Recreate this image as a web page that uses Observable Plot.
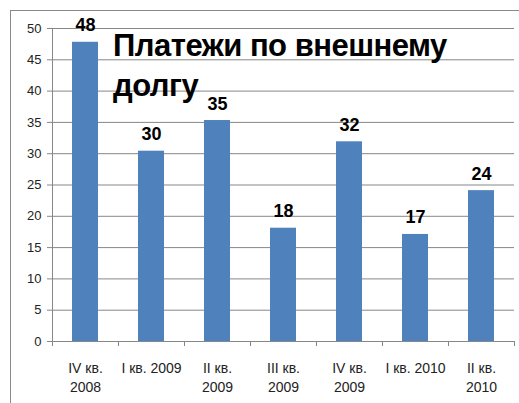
<!DOCTYPE html>
<html><head><meta charset="utf-8">
<script src="https://cdn.jsdelivr.net/npm/d3@7"></script>
<script src="https://cdn.jsdelivr.net/npm/@observablehq/plot@0.6"></script>
<style>
html,body{margin:0;padding:0;background:#fff;overflow:hidden;}
#wrap{position:relative;width:519px;height:403px;overflow:hidden;font-family:"Liberation Sans",Arial,sans-serif;}
#chart{position:absolute;left:0;top:0;}
#border{position:absolute;left:10px;top:10px;width:600px;height:500px;border:1px solid #8a8a8a;box-sizing:border-box;}
#title{position:absolute;left:113px;top:26px;font-size:31px;font-weight:bold;line-height:40px;letter-spacing:-0.5px;color:#000;white-space:nowrap;}
</style></head><body>
<div id="wrap"><div id="chart"></div><div id="border"></div><div id="title"></div></div>
<script>
const quarters = ["IV кв.\n2008", "I кв. 2009", "II кв.\n2009", "III кв.\n2009", "IV кв.\n2009", "I кв. 2010", "II кв.\n2010"];
const payments = [47.8, 30.4, 35.3, 18.1, 31.9, 17.1, 24.1];
const yTicks = [0, 5, 10, 15, 20, 25, 30, 35, 40, 45, 50];
const titleLines = ["Платежи по внешнему", "долгу"];

const W = 519, H = 403, mL = 52, mR = 5, mT = 28, mB = 62;
const step = (W - mL - mR) / quarters.length;
const data = quarters.map((q, i) => ({q, v: payments[i]}));
const grey = "#878787";

const chart = Plot.plot({
  width: W, height: H,
  marginLeft: mL, marginRight: mR, marginTop: mT, marginBottom: mB,
  style: {fontFamily: "'Liberation Sans', Arial, sans-serif", background: "transparent", color: "#222"},
  x: {domain: quarters, padding: 0, label: null},
  y: {domain: [0, 50], label: null},
  marks: [
    Plot.gridY(yTicks, {stroke: grey, strokeOpacity: 1}),
    Plot.barY(data, {x: "q", y: "v", fill: "#4F81BD", insetLeft: 20, insetRight: 20}),
    Plot.ruleY([0], {stroke: grey}),
    Plot.frame({anchor: "left", stroke: grey}),
    Plot.ruleX(quarters, {x: d => d, y1: 0, y2: 0, insetBottom: -5, dx: -step / 2, stroke: grey}),
    Plot.ruleX(quarters.slice(-1), {x: d => d, y1: 0, y2: 0, insetBottom: -5, dx: step / 2, stroke: grey}),
    Plot.axisY(yTicks, {tickSize: 5, tickPadding: 6, fontSize: 13, stroke: grey, fill: "#222", label: null}),
    Plot.axisX({tickSize: 0, tickPadding: 19, fontSize: 14, lineHeight: 1.3, fill: "#222", label: null}),
    Plot.text(data, {x: "q", y: "v", text: d => d3.format(".0f")(d.v), dy: -11, lineAnchor: "bottom", fontSize: 18, fontWeight: "bold", fill: "#000"})
  ]
});
document.getElementById("chart").appendChild(chart);
document.getElementById("title").innerHTML = titleLines.join("<br>");
</script>
</body></html>
